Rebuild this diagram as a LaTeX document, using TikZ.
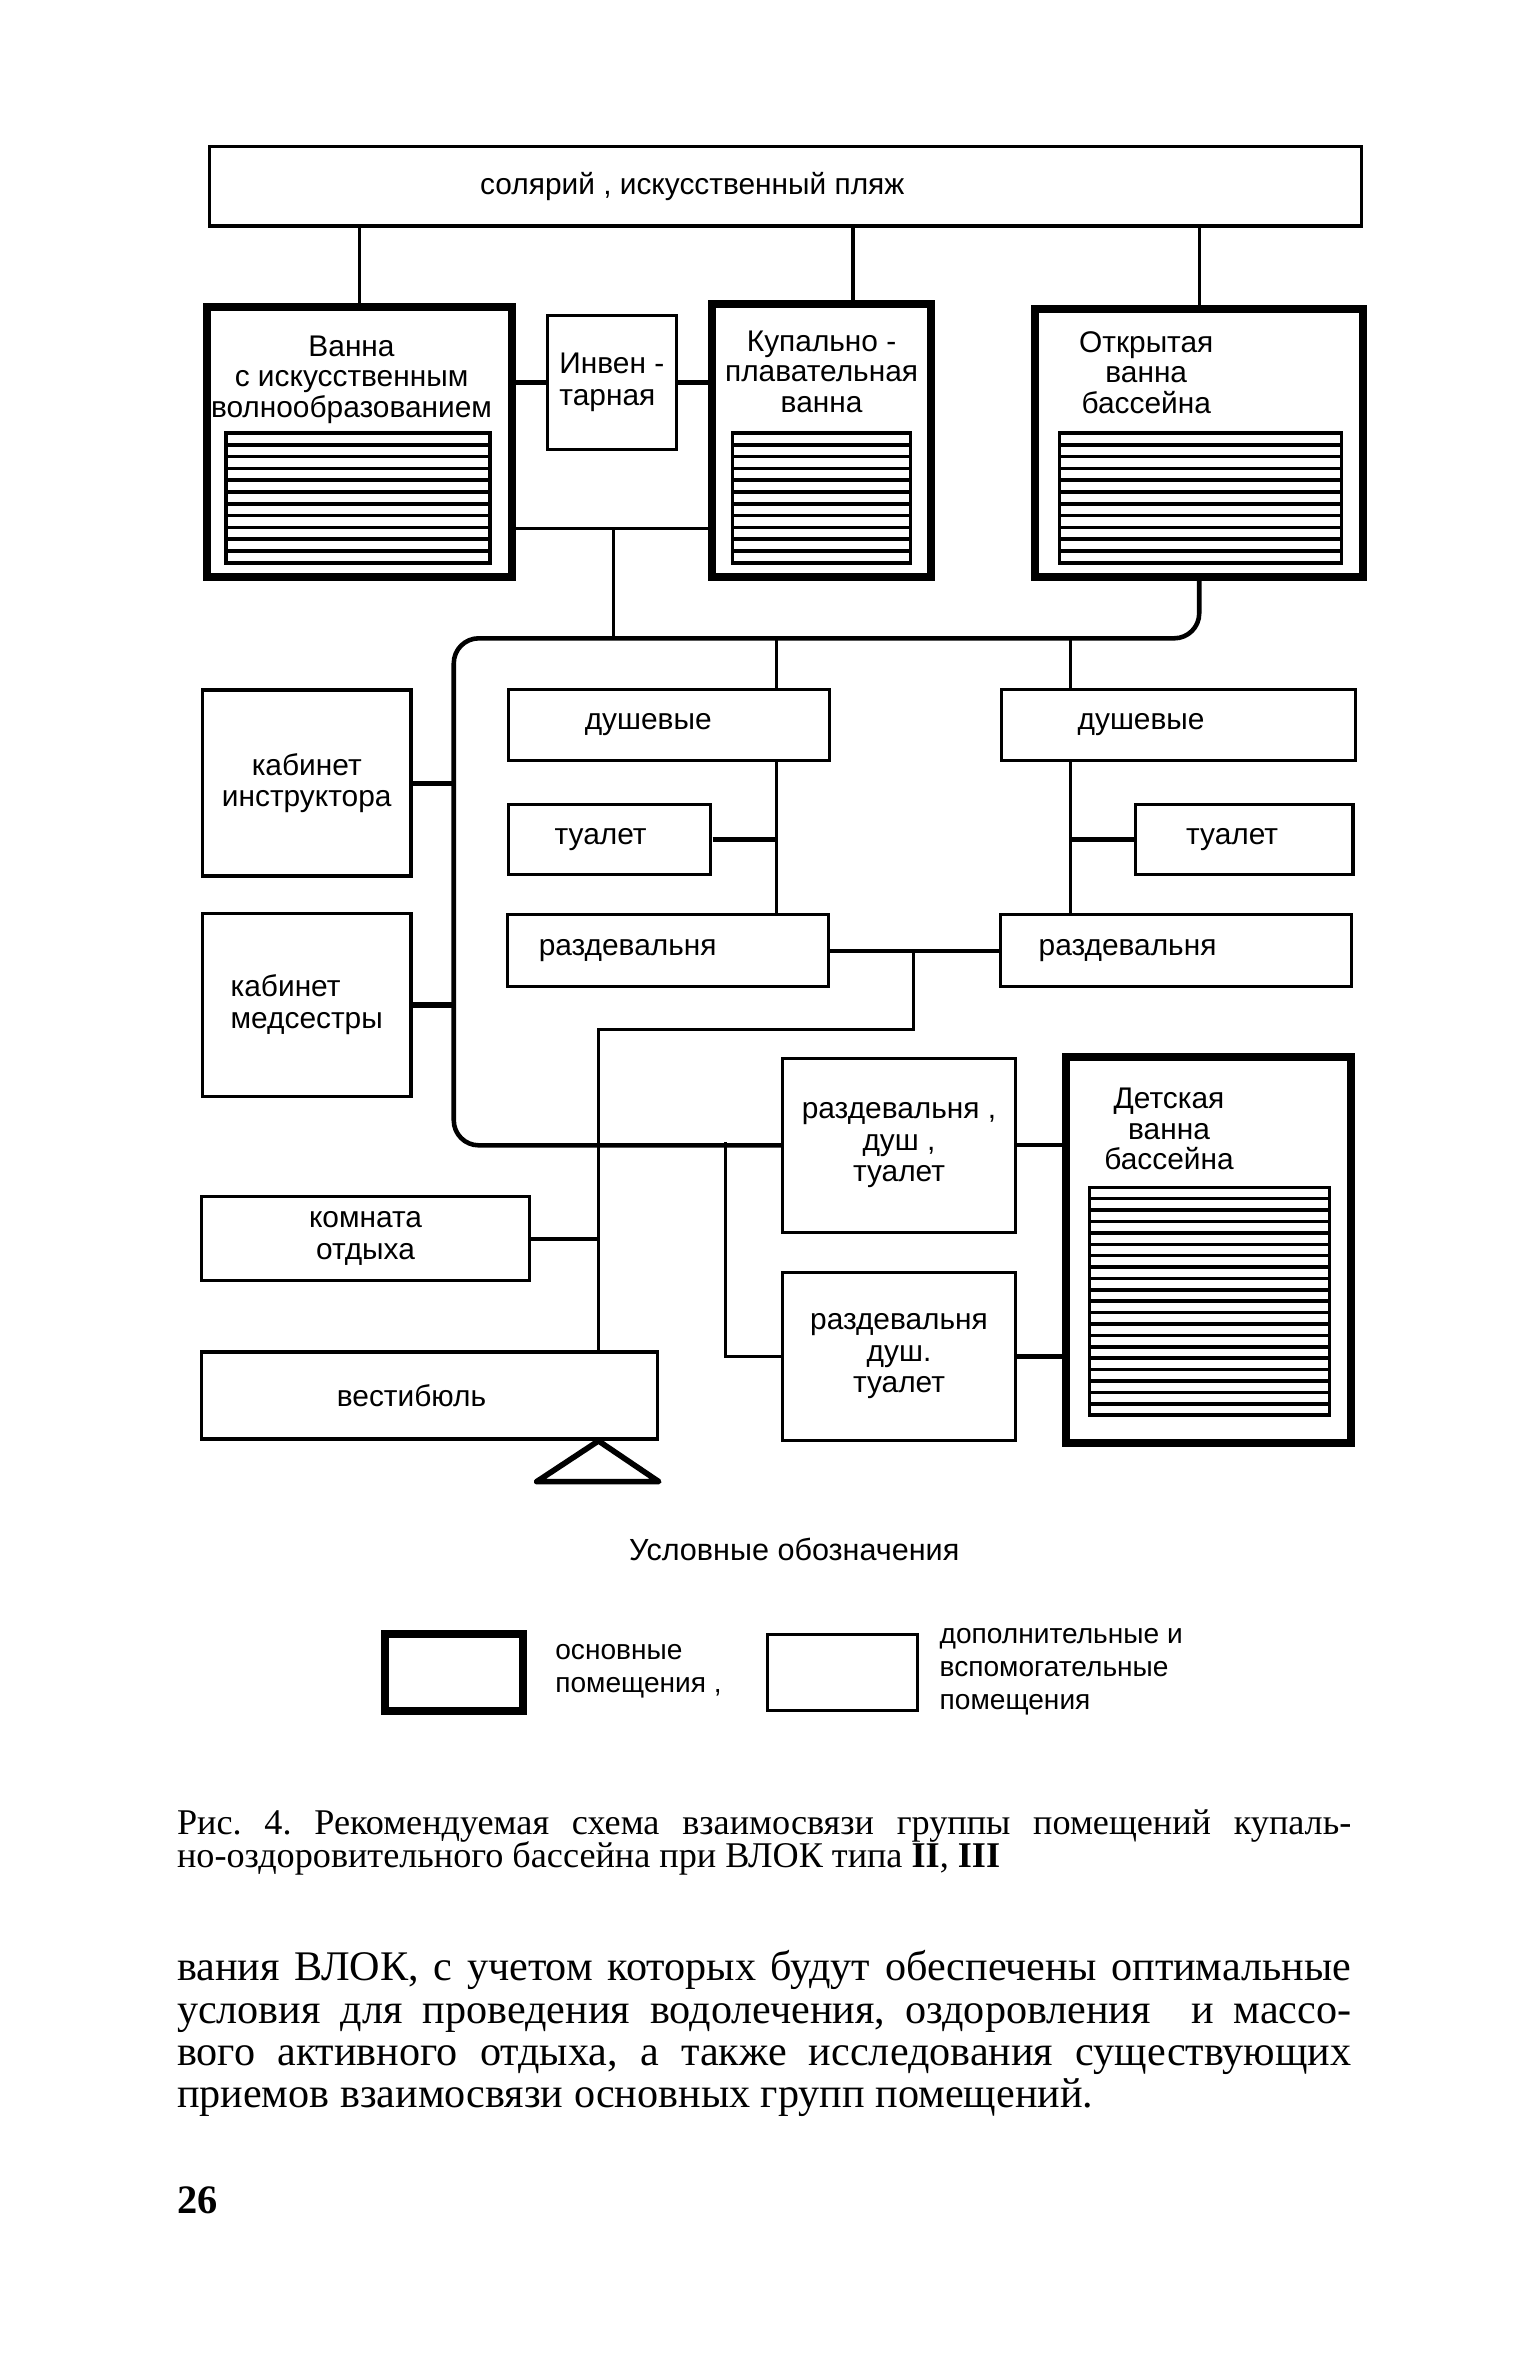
\documentclass[tikz,border=0pt]{standalone}
\usepackage{fontspec}
\setmainfont{Liberation Serif}
\newfontfamily\planfont{Liberation Sans}
\usepackage{tikz}
\usetikzlibrary{calc}
\frenchspacing

\tikzset{
  room/.style={draw, line width=0.9pt, inner sep=2pt, align=center,
    font=\planfont\fontsize{8.5}{9}\selectfont},
  pool/.style={room, line width=2.3pt},
  pooltext/.style={anchor=north, yshift=-0.3cm, align=center, inner sep=0pt,
    font=\planfont\fontsize{8.5}{8.7}\selectfont},
  link/.style={line width=0.9pt},
  hatchline/.style={line width=1pt},
  legtext/.style={anchor=west, inner sep=0pt, align=left,
    font=\planfont\fontsize{8}{9.4}\selectfont},
  captext/.style={anchor=base west, inner sep=0pt, font=\fontsize{10.3}{11}\selectfont},
  bodytext/.style={anchor=base west, inner sep=0pt, font=\fontsize{12}{13}\selectfont}
}

\begin{document}
\begin{tikzpicture}[x=0.015cm, y=-0.015cm]
  \useasboundingbox (0,0) rectangle (1024,1575);
  \begin{scope}[xscale=1.005, yscale=1.006]

  \draw (521,123.5) node[room, minimum width=11.52cm, minimum height=0.795cm] (solarium) {\hspace*{-1.86cm}солярий , искусственный пляж};

  \draw (238.5,293) node[pool, minimum width=3.045cm, minimum height=2.7cm,
    label={[pooltext, xshift=-0.08cm, yshift=-0.02cm]north:Ванна\\с искусственным\\волнообразованием}] (wave) {};
  \draw (406,253.5) node[room, minimum width=1.29cm, minimum height=1.335cm, align=left] (inv) {Инвен -\\тарная};
  \draw (545,292) node[pool, minimum width=2.19cm, minimum height=2.73cm,
    label={[pooltext]north:Купально -\\плавательная\\ванна}] (bath) {};
  \draw (795.5,293.5) node[pool, minimum width=3.285cm, minimum height=2.685cm,
    label={[pooltext, xshift=-0.53cm, yshift=0.04cm]north:Открытая\\ванна\\бассейна}] (open) {};

  \draw[hatchline] (150,287) rectangle (325,373);
  \foreach \k in {1,...,10} \draw[hatchline] (150,{287+\k*7.82}) -- (325,{287+\k*7.82});
  \draw[hatchline] (486,287) rectangle (604,373);
  \foreach \k in {1,...,10} \draw[hatchline] (486,{287+\k*7.82}) -- (604,{287+\k*7.82});
  \draw[hatchline] (703,287) rectangle (890,373);
  \foreach \k in {1,...,10} \draw[hatchline] (703,{287+\k*7.82}) -- (890,{287+\k*7.82});

  \draw (203.5,519) node[room, minimum width=2.085cm, minimum height=1.86cm] (instr) {кабинет\\инструктора};
  \draw (203.5,666) node[room, minimum width=2.085cm, minimum height=1.83cm, align=left] (nurse) {кабинет\\медсестры};

  \draw (444,480.5) node[room, minimum width=3.21cm, minimum height=0.705cm] (showerL) {\hspace*{-0.42cm}душевые};
  \draw (782,480.5) node[room, minimum width=3.54cm, minimum height=0.705cm] (showerR) {\hspace*{-0.75cm}душевые};
  \draw (404.5,556.5) node[room, minimum width=2.025cm, minimum height=0.705cm] (wcL) {\hspace*{-0.18cm}туалет};
  \draw (825.5,556.5) node[room, minimum width=2.175cm, minimum height=0.705cm] (wcR) {\hspace*{-0.24cm}туалет};
  \draw (443,630) node[room, minimum width=3.21cm, minimum height=0.72cm] (dressL) {\hspace*{-0.8cm}раздевальня};
  \draw (780,630) node[room, minimum width=3.51cm, minimum height=0.72cm] (dressR) {\hspace*{-0.96cm}раздевальня};

  \draw (596.5,759) node[room, minimum width=2.325cm, minimum height=1.74cm] (dress1) {раздевальня ,\\душ ,\\туалет};
  \draw (596.5,899) node[room, minimum width=2.325cm, minimum height=1.68cm] (dress2) {раздевальня\\душ.\\туалет};
  \draw (802,828.5) node[pool, minimum width=2.85cm, minimum height=3.855cm,
    label={[pooltext, xshift=-0.4cm, yshift=-0.04cm]north:Детская\\ванна\\бассейна}] (kids) {};
  \draw[hatchline] (723,787) rectangle (882,938);
  \foreach \k in {1,...,19} \draw[hatchline] (723,{787+\k*7.55}) -- (882,{787+\k*7.55});

  \draw (242.5,821) node[room, minimum width=3.285cm, minimum height=0.84cm] (rest) {комната\\отдыха};
  \draw (285,925) node[room, minimum width=4.56cm, minimum height=0.87cm] (hall) {\hspace*{-0.36cm}вестибюль};

  \coordinate (solB) at ([xshift=0.31cm]bath.north);
  \draw[link] (wave.north) -- (wave.north |- solarium.south);
  \draw[link] (solB) -- (solB |- solarium.south);
  \draw[link] (open.north) -- (open.north |- solarium.south);

  \draw[link, line width=1.5pt] (inv.west) -- (inv.west -| wave.east);
  \draw[link, line width=1.5pt] (inv.east) -- (inv.east -| bath.west);

  \coordinate (hub) at (407,350);
  \coordinate (corr) at (301,423);
  \draw[link] (hub -| wave.east) -- (hub -| bath.west);
  \draw[link] (hub) -- (hub |- corr);
  \draw[link, line width=1.3pt, rounded corners=0.25cm] (open.south) |- (corr) |- (dress1.west);

  \coordinate (dropL) at (515,423);
  \coordinate (dropR) at (710,423);
  \draw[link] (dropL) -- (dropL |- showerL.north);
  \draw[link] (dropL |- showerL.south) -- (dropL |- dressL.north);
  \draw[link, line width=1.5pt] (wcL.east) -- (wcL.east -| dropL);
  \draw[link] (dropR) -- (dropR |- showerR.north);
  \draw[link] (dropR |- showerR.south) -- (dropR |- dressR.north);
  \draw[link, line width=1.5pt] (wcR.west) -- (wcR.west -| dropR);

  \draw[link, line width=1.5pt] (instr.east) -- (instr.east -| corr);
  \draw[link, line width=1.5pt] (nurse.east) -- (nurse.east -| corr);

  \coordinate (split) at (606,631);
  \coordinate (trunk) at (397,682);
  \draw[link, line width=1.2pt] (dressL.east) -- (dressR.west);
  \draw[link] (split) |- (trunk) -- (trunk |- hall.north);
  \draw[link, line width=1.2pt] (rest.east) -- (rest.east -| trunk);

  \coordinate (branch) at (481,757);
  \draw[link] (branch) |- (dress2.west);
  \draw[link, line width=1.2pt] (dress1.east) -- (dress1.east -| kids.west);
  \draw[link, line width=1.2pt] (dress2.east) -- (dress2.east -| kids.west);

  \draw[line width=1.6pt, line join=round] (trunk |- hall.south) -- ++(-41,27) -- ++(81,0) -- cycle;

  \draw (527,1027) node[font=\planfont\fontsize{8.7}{10}\selectfont] (legend) {Условные обозначения};
  \draw (301,1108.5) node[pool, minimum width=1.38cm, minimum height=0.765cm] (legmain) {};
  \draw (368,1108) node[legtext] (legmaintext) {основные\\помещения ,};
  \draw (559,1108.5) node[room, minimum width=1.5cm, minimum height=0.765cm] (legaux) {};
  \draw (623,1108) node[legtext] (legauxtext) {дополнительные и\\вспомогательные\\помещения};

  \draw (117,1216) node[captext] (cap1) {\makebox[11.745cm][s]{Рис. 4. Рекомендуемая схема взаимосвязи группы помещений купаль-}};
  \draw (117,1238) node[captext] (cap2) {но-оздоровительного бассейна при ВЛОК типа \textbf{II}, \textbf{III}};

  \draw (117,1313) node[bodytext] (body1) {\makebox[11.745cm][s]{вания ВЛОК, с учетом которых будут обеспечены оптимальные}};
  \draw (117,1341) node[bodytext] (body2) {\makebox[11.745cm][s]{условия для проведения водолечения, оздоровления \ и массо-}};
  \draw (117,1369) node[bodytext] (body3) {\makebox[11.745cm][s]{вого активного отдыха, а также исследования существующих}};
  \draw (117,1397) node[bodytext] (body4) {приемов взаимосвязи основных групп помещений.};

  \draw (117,1467) node[anchor=base west, inner sep=0pt, font=\bfseries\fontsize{11.5}{12}\selectfont] (pagenum) {26};
  \end{scope}
\end{tikzpicture}
\end{document}
